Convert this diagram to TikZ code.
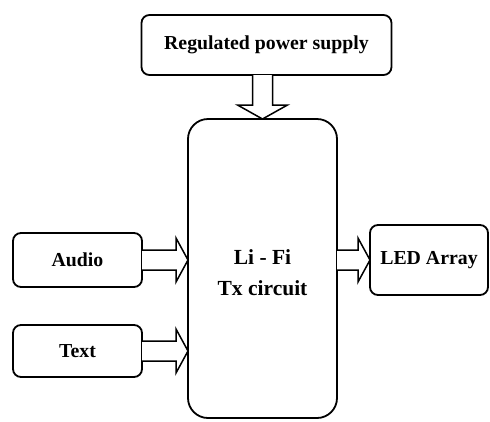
\documentclass[tikz,border=0pt]{standalone}
\usepackage{fontspec}
\setmainfont{Liberation Serif}
\usetikzlibrary{calc}
\tikzset{
  blk/.style={draw=black, line width=1.8pt, rounded corners=8pt, fill=white,
    inner sep=0pt, outer sep=0pt, align=center,
    font=\fontsize{19.8}{23}\selectfont\bfseries},
  bigblk/.style={blk, rounded corners=20pt,
    font=\fontsize{21.5}{31}\selectfont\bfseries},
  arr/.style={draw=black, line width=1.5pt, fill=white, line join=miter}
}
\newcommand\harrow[5]{%
  \draw[arr] let \p1=(#1), \p2=(#2) in
    (\x1,\y1+#3) -- (\x2-#5,\y1+#3) -- (\x2-#5,\y1+#4) -- (\x2,\y1)
    -- (\x2-#5,\y1-#4) -- (\x2-#5,\y1-#3) -- (\x1,\y1-#3);}
\newcommand\varrow[5]{%
  \draw[arr] let \p1=(#1), \p2=(#2) in
    (\x1-#3,\y1) -- (\x1-#3,\y2+#5) -- (\x1-#4,\y2+#5) -- (\x1,\y2)
    -- (\x1+#4,\y2+#5) -- (\x1+#3,\y2+#5) -- (\x1+#3,\y1);}
\begin{document}
\begin{tikzpicture}[x=1pt,y=-1pt]
\useasboundingbox (0,0) rectangle (490,421);
\node[blk, minimum width=250pt, minimum height=60pt] (psu) at (266.5,45) {Regulated power supply};
\node[bigblk, minimum width=149pt, minimum height=299pt] (tx) at (262.5,268.5) {\rule{0pt}{23pt}Li - Fi\\Tx circuit};
\node[blk, minimum width=129pt, minimum height=54pt] (audio) at (77.5,260) {Audio};
\node[blk, minimum width=129pt, minimum height=52pt] (text) at (77.5,351) {Text};
\node[blk, minimum width=118pt, minimum height=70pt] (led) at (429,260) {LED Array};
\varrow{tx.north |- psu.south}{tx.north}{10pt}{25pt}{14pt}
\harrow{audio.east}{audio.east -| tx.west}{10pt}{22pt}{12pt}
\harrow{text.east}{text.east -| tx.west}{10pt}{22pt}{12pt}
\harrow{led.west -| tx.east}{led.west}{10pt}{22pt}{12pt}
\end{tikzpicture}
\end{document}
